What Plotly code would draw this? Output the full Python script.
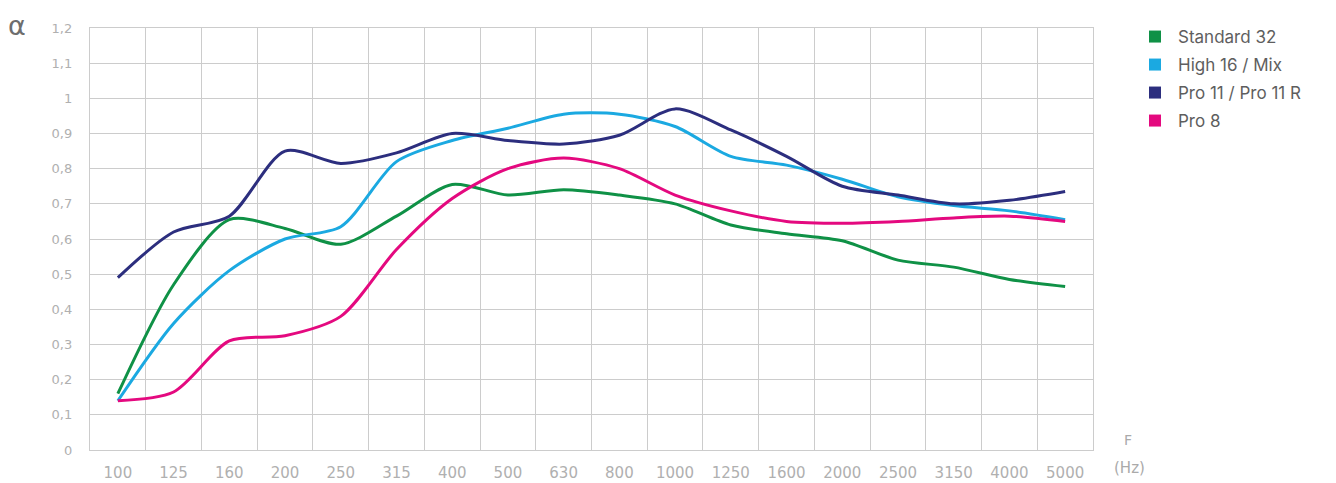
import plotly.graph_objects as go

freqs = ["100", "125", "160", "200", "250", "315", "400", "500", "630", "800",
         "1000", "1250", "1600", "2000", "2500", "3150", "4000", "5000"]

standard_32 = [0.16, 0.47, 0.655, 0.63, 0.585, 0.665, 0.755, 0.725, 0.74, 0.725,
               0.70, 0.64, 0.615, 0.595, 0.54, 0.52, 0.485, 0.465]
high_16_mix = [0.14, 0.36, 0.51, 0.60, 0.635, 0.82, 0.88, 0.915, 0.955, 0.955,
               0.92, 0.835, 0.81, 0.77, 0.72, 0.695, 0.68, 0.655]
pro_11 = [0.49, 0.62, 0.665, 0.85, 0.815, 0.845, 0.90, 0.88, 0.87, 0.895,
          0.97, 0.91, 0.835, 0.75, 0.725, 0.70, 0.71, 0.735]
pro_8 = [0.14, 0.165, 0.31, 0.325, 0.38, 0.57, 0.715, 0.80, 0.83, 0.80,
         0.725, 0.68, 0.65, 0.645, 0.65, 0.66, 0.665, 0.65]

series = [
    ("Standard 32", standard_32, "#0f9146"),
    ("High 16 / Mix", high_16_mix, "#1ba9e1"),
    ("Pro 11 / Pro 11 R", pro_11, "#2c2e7e"),
    ("Pro 8", pro_8, "#e4097f"),
]

# the page places the figure 8px from the window's top-left corner
OFF = 8
W, H = 1336 - OFF, 483 - OFF
L, T = 90 - OFF, 28 - OFF
PW, PH = 1003, 422
R, B = W - L - PW, H - T - PH


def px(xs):
    return (xs - OFF - L) / PW


def py(ys):
    return (T + PH - (ys - OFF)) / PH


fig = go.Figure()
for name, vals, col in series:
    fig.add_trace(go.Scatter(x=freqs, y=vals, mode="lines", name=name,
                             line=dict(color=col, width=3, shape="spline", smoothing=0.8),
                             showlegend=False))

legend_rows = [37, 65, 93, 121]
legend_ids = ["legend", "legend2", "legend3", "legend4"]
legend_layout = {}
for (name, vals, col), lid, ry in zip(series, legend_ids, legend_rows):
    fig.add_trace(go.Scatter(x=[None], y=[None], mode="markers", name=name,
                             marker=dict(color=col, size=12, symbol="square"),
                             showlegend=True, legend=lid))
    legend_layout[lid] = dict(x=px(1132), y=py(ry), xanchor="left", yanchor="middle",
                              font=dict(size=17, color="#5e5e5e", family="Inter, sans-serif"),
                              itemwidth=36, bgcolor="rgba(0,0,0,0)", borderwidth=0)

grid = "#cccccc"
fig.update_layout(
    width=W, height=H,
    margin=dict(l=L, r=R, t=T, b=B, autoexpand=False),
    paper_bgcolor="white", plot_bgcolor="white",
    separators=", ",
    font=dict(family="DejaVu Sans, sans-serif", color="#b0b0b0"),
    xaxis=dict(type="category", categoryorder="array", categoryarray=freqs,
               tickson="boundaries", showgrid=True, gridcolor=grid, gridwidth=1.4,
               showline=True, linecolor=grid, linewidth=1.4, mirror=True,
               ticks="", ticklabelstandoff=9, automargin=False,
               tickfont=dict(size=15, color="#b0b0b0", family="DejaVu Sans, sans-serif"),
               range=[-0.5, 17.5], zeroline=False),
    yaxis=dict(range=[0, 1.2], dtick=0.1, tick0=0, showgrid=True, gridcolor=grid,
               gridwidth=1.4, showline=True, linecolor=grid, linewidth=1.4, mirror=True,
               ticks="", ticklabelstandoff=14, zeroline=False, automargin=False,
               tickfont=dict(size=13, color="#b0b0b0", family="DejaVu Sans, sans-serif")),
    **legend_layout,
)
fig.add_annotation(text="α", xref="paper", yref="paper", x=px(17), y=py(8),
                   xanchor="center", yanchor="top", showarrow=False,
                   font=dict(size=27, color="#6e6e6e", family="DejaVu Sans"))
fig.add_annotation(text="F", xref="paper", yref="paper", x=px(1128), y=py(440),
                   xanchor="center", yanchor="middle", showarrow=False,
                   font=dict(size=14, color="#aaaaaa", family="DejaVu Sans, sans-serif"))
fig.add_annotation(text="(Hz)", xref="paper", yref="paper", x=px(1129), y=py(468),
                   xanchor="center", yanchor="middle", showarrow=False,
                   font=dict(size=15, color="#aaaaaa", family="DejaVu Sans, sans-serif"))

fig.write_html("out.html")
